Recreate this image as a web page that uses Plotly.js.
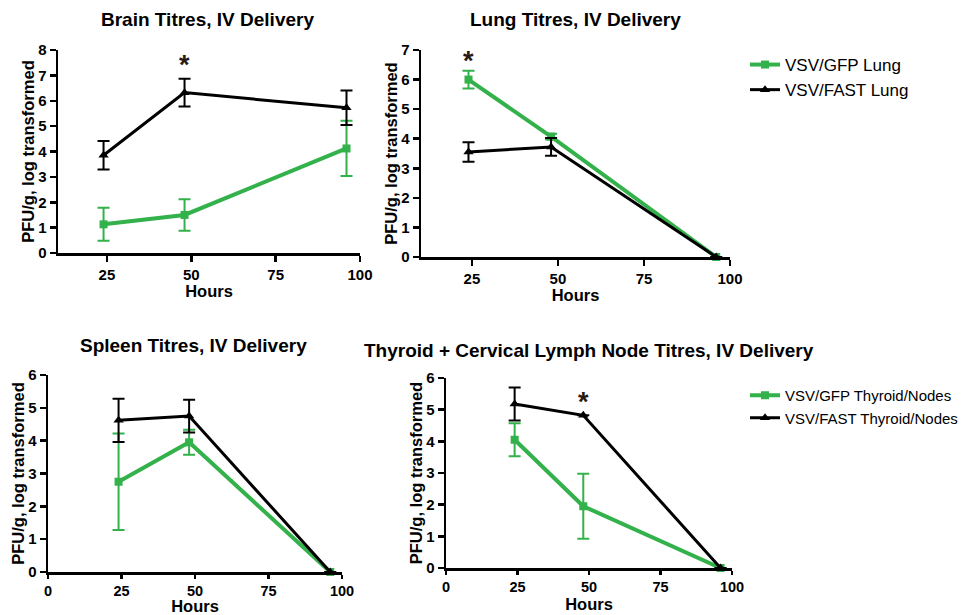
<!DOCTYPE html>
<html>
<head>
<meta charset="utf-8">
<script src="https://cdn.plot.ly/plotly-3.0.1.min.js"></script>
<style>html,body{margin:0;padding:0;background:#fff;}#chart{width:970px;height:615px;}</style>
</head>
<body>
<div id="chart"></div>
<script>
// ---- data ----
var hours = [24, 48, 96];

var brainGFP = [1.13, 1.50, 4.12];
var brainGFPErr = [0.65, 0.62, 1.09];
var brainFAST = [3.85, 6.32, 5.72];
var brainFASTErr = [0.56, 0.55, 0.68];

var lungGFP = [6.00, 4.07, 0];
var lungGFPErr = [0.30, 0.10, 0];
var lungFAST = [3.55, 3.72, 0];
var lungFASTErr = [0.33, 0.30, 0];

var spleenGFP = [2.75, 3.95, 0];
var spleenGFPErr = [1.47, 0.38, 0];
var spleenFAST = [4.62, 4.75, 0];
var spleenFASTErr = [0.66, 0.50, 0];

var thyGFP = [4.05, 1.95, 0];
var thyGFPErr = [0.52, 1.03, 0];
var thyFAST = [5.18, 4.82, 0];
var thyFASTErr = [0.52, 0, 0];

var panelTitles = ["Brain Titres, IV Delivery", "Lung Titres, IV Delivery",
                   "Spleen Titres, IV Delivery", "Thyroid + Cervical Lymph Node Titres, IV Delivery"];
var legendLung = ["VSV/GFP Lung", "VSV/FAST Lung"];
var legendThy = ["VSV/GFP Thyroid/Nodes", "VSV/FAST Thyroid/Nodes"];
var xTicks = [0, 25, 50, 75, 100];
var stars = [{panel: 1, x: 48, y: 7.56}, {panel: 2, x: 24, y: 6.77}, {panel: 4, x: 48, y: 5.38}];

// ---- styling ----
var GREEN = "#33b14a";
var BLACK = "#000000";
var FONT = "Liberation Sans, Arial, sans-serif";

function gfp(y, err, xa, ya, name, legend, show) {
  return {
    x: hours, y: y, xaxis: xa, yaxis: ya, name: name, type: "scatter", mode: "lines+markers",
    line: {color: GREEN, width: 4},
    marker: {symbol: "square", size: 8, color: GREEN},
    error_y: {type: "data", array: err, visible: true, color: GREEN, thickness: 2, width: 6},
    cliponaxis: false, showlegend: show, legend: legend
  };
}
function fast(y, err, xa, ya, name, legend, show) {
  return {
    x: hours, y: y, xaxis: xa, yaxis: ya, name: name, type: "scatter", mode: "lines+markers",
    line: {color: BLACK, width: 3},
    marker: {symbol: "triangle-up", size: 9, color: BLACK},
    error_y: {type: "data", array: err, visible: true, color: BLACK, thickness: 2, width: 6},
    cliponaxis: false, showlegend: show, legend: legend
  };
}

var traces = [
  gfp(brainGFP, brainGFPErr, "x", "y", "VSV/GFP Brain", "legend", false),
  fast(brainFAST, brainFASTErr, "x", "y", "VSV/FAST Brain", "legend", false),
  gfp(lungGFP, lungGFPErr, "x2", "y2", legendLung[0], "legend", true),
  fast(lungFAST, lungFASTErr, "x2", "y2", legendLung[1], "legend", true),
  gfp(spleenGFP, spleenGFPErr, "x3", "y3", "VSV/GFP Spleen", "legend", false),
  fast(spleenFAST, spleenFASTErr, "x3", "y3", "VSV/FAST Spleen", "legend", false),
  gfp(thyGFP, thyGFPErr, "x4", "y4", legendThy[0], "legend2", true),
  fast(thyFAST, thyFASTErr, "x4", "y4", legendThy[1], "legend2", true)
];

function xax(domain, range, anchor, tlen, standoff, tsize) {
  return {
    domain: domain, range: range, anchor: anchor,
    tickvals: xTicks, ticktext: xTicks.map(String),
    showline: true, linecolor: BLACK, linewidth: 2.5, mirror: false,
    ticks: "outside", ticklen: tlen, tickwidth: 2.5, tickcolor: BLACK,
    showgrid: false, zeroline: false,
    tickfont: {family: FONT, size: tsize, color: BLACK, weight: "bold"},
    title: {text: "<b>Hours</b>", font: {family: FONT, size: 16.5, color: BLACK}, standoff: standoff}
  };
}
function yax(domain, range, anchor) {
  return {
    domain: domain, range: range, anchor: anchor, dtick: 1,
    showline: true, linecolor: BLACK, linewidth: 2.5,
    ticks: "outside", ticklen: 6, tickwidth: 2.5, tickcolor: BLACK,
    showgrid: false, zeroline: false,
    tickfont: {family: FONT, size: 15, color: BLACK, weight: "bold"},
    title: {text: "<b>PFU/g, log transformed</b>", font: {family: FONT, size: 16.5, color: BLACK}, standoff: 0}
  };
}
function px(a) { return a / 970; }
function py(b) { return 1 - b / 615; }

var annotations = [];
var titlePos = [[207, 20], [575, 20], [193, 345], [589, 350]];
panelTitles.forEach(function (t, i) {
  annotations.push({
    text: "<b>" + t + "</b>", xref: "paper", yref: "paper",
    x: px(titlePos[i][0]), y: py(titlePos[i][1]), xanchor: "center", yanchor: "middle",
    showarrow: false, font: {family: FONT, size: 19, color: BLACK}
  });
});
stars.forEach(function (s) {
  var suf = s.panel === 1 ? "" : String(s.panel);
  annotations.push({
    text: "<b>*</b>", xref: "x" + suf, yref: "y" + suf, x: s.x, y: s.y,
    showarrow: false, font: {family: FONT, size: 27, color: "#2a1a10"}, yanchor: "middle", yshift: -4
  });
});

var layout = {
  width: 970, height: 615,
  margin: {l: 0, r: 0, t: 0, b: 0},
  paper_bgcolor: "#ffffff", plot_bgcolor: "#ffffff",
  font: {family: FONT, color: BLACK},
  xaxis: xax([px(58), px(360)], [10.5, 100], "y", 6, 4, 15),
  yaxis: yax([py(253), py(50)], [0, 8], "x"),
  xaxis2: xax([px(421), px(730)], [10.2, 100], "y2", 6, 4, 15),
  yaxis2: yax([py(257), py(50)], [0, 7], "x2"),
  xaxis3: xax([px(48), px(342)], [0, 100], "y3", 4, 4, 14.5),
  yaxis3: yax([py(572), py(375)], [0, 6], "x3"),
  xaxis4: xax([px(446), px(732)], [0, 100], "y4", 4, 4, 14.5),
  yaxis4: yax([py(568), py(378)], [0, 6], "x4"),
  legend: {x: px(745), y: py(47), xanchor: "left", yanchor: "top", bgcolor: "rgba(0,0,0,0)",
           font: {family: FONT, size: 17, color: BLACK}, itemwidth: 30},
  legend2: {x: px(745), y: py(379), xanchor: "left", yanchor: "top", bgcolor: "rgba(0,0,0,0)",
            font: {family: FONT, size: 15, color: BLACK}, itemwidth: 30},
  annotations: annotations,
  showlegend: true
};

Plotly.newPlot("chart", traces, layout, {staticPlot: true, displayModeBar: false});
</script>
</body>
</html>
